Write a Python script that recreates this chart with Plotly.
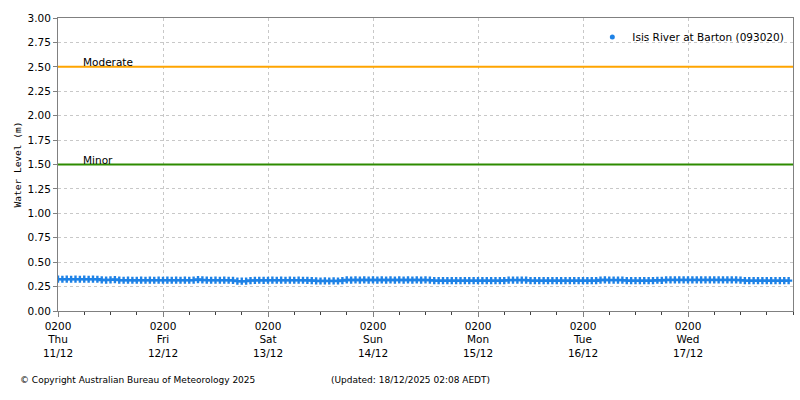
import pandas as pd
import plotly.graph_objects as go

# hourly water level readings (m), starting Thu 11/12/2025 02:00
thu = [0.326, 0.325, 0.326, 0.325, 0.326, 0.325, 0.326, 0.325, 0.326, 0.325, 0.318, 0.317,
       0.319, 0.322, 0.316, 0.315, 0.316, 0.315, 0.315, 0.316, 0.315, 0.316, 0.315, 0.316]
fri = [0.315, 0.316, 0.315, 0.316, 0.315, 0.316, 0.315, 0.316, 0.322, 0.318, 0.316, 0.315,
       0.316, 0.315, 0.316, 0.315, 0.314, 0.306, 0.305, 0.306, 0.312, 0.314, 0.315, 0.314]
sat = [0.315, 0.316, 0.315, 0.316, 0.315, 0.316, 0.315, 0.316, 0.315, 0.314, 0.312, 0.308,
       0.307, 0.308, 0.307, 0.308, 0.307, 0.312, 0.318, 0.317, 0.318, 0.317, 0.318, 0.317]
sun = [0.318, 0.317, 0.318, 0.317, 0.318, 0.317, 0.318, 0.317, 0.318, 0.317, 0.318, 0.317,
       0.318, 0.316, 0.311, 0.310, 0.311, 0.310, 0.311, 0.310, 0.311, 0.310, 0.311, 0.310]
mon = [0.311, 0.310, 0.311, 0.310, 0.311, 0.310, 0.312, 0.316, 0.317, 0.316, 0.317, 0.316,
       0.311, 0.310, 0.311, 0.310, 0.311, 0.310, 0.311, 0.310, 0.311, 0.310, 0.311, 0.310]
tue = [0.311, 0.310, 0.311, 0.310, 0.317, 0.318, 0.317, 0.316, 0.317, 0.316, 0.311, 0.310,
       0.311, 0.310, 0.311, 0.310, 0.311, 0.315, 0.314, 0.318, 0.319, 0.318, 0.319, 0.318]
wed = [0.319, 0.318, 0.319, 0.318, 0.319, 0.318, 0.319, 0.318, 0.319, 0.318, 0.319, 0.318,
       0.316, 0.311, 0.310, 0.311, 0.310, 0.311, 0.310, 0.311, 0.310, 0.311, 0.310, 0.311]
levels = thu + fri + sat + sun + mon + tue + wed
times = pd.date_range('2025-12-11 02:00', periods=len(levels), freq='h')

day_ticks = pd.date_range('2025-12-11 02:00', periods=7, freq='D')
day_names = ['Thu', 'Fri', 'Sat', 'Sun', 'Mon', 'Tue', 'Wed']
day_dates = ['11/12', '12/12', '13/12', '14/12', '15/12', '16/12', '17/12']
tick_text = [f'0200<br>{n}<br>{d}' for n, d in zip(day_names, day_dates)]

moderate_level = 2.5
minor_level = 1.5

font = 'DejaVu Sans'
start = day_ticks[0]
end = start + pd.Timedelta(days=7)

fig = go.Figure()

fig.add_trace(go.Scatter(
    x=[start, end], y=[moderate_level] * 2,
    mode='lines', line={'color': '#FFA500', 'width': 2}, showlegend=False, hoverinfo='skip'))
fig.add_trace(go.Scatter(
    x=[start, end], y=[minor_level] * 2,
    mode='lines', line={'color': '#2E8B00', 'width': 2}, showlegend=False, hoverinfo='skip'))

fig.add_trace(go.Scatter(
    x=times, y=levels, mode='markers', name='Isis River at Barton (093020)',
    marker={'color': '#1E82E6', 'size': 6, 'symbol': 'cross'}, showlegend=False))
# legend entry drawn as a plain dot, like the original
fig.add_trace(go.Scatter(
    x=[None], y=[None], mode='markers', name='Isis River at Barton (093020)',
    marker={'color': '#1E82E6', 'size': 5, 'symbol': 'circle'}))

for lvl, label in [(moderate_level, 'Moderate'), (minor_level, 'Minor')]:
    fig.add_annotation(x=pd.Timestamp('2025-12-11 08:00'), y=lvl, text=label,
                       xanchor='left', yanchor='bottom', showarrow=False, yshift=-3, xshift=-3,
                       font={'family': font, 'size': 10.5, 'color': 'black'})

fig.add_annotation(x=18, y=380, xref='paper', yref='paper',
                   text='© Copyright Australian Bureau of Meteorology 2025',
                   showarrow=False, xanchor='left', yanchor='middle',
                   font={'family': font, 'size': 9, 'color': 'black'})
fig.add_annotation(x=329, y=380, xref='paper', yref='paper',
                   text='(Updated: 18/12/2025 02:08 AEDT)',
                   showarrow=False, xanchor='left', yanchor='middle',
                   font={'family': font, 'size': 9, 'color': 'black'})

# convert pixel positions of footer notes to paper coords
pw, ph = 800 - 58 - 7, 400 - 18 - 89
for ann in fig.layout.annotations[2:]:
    ann.x = (ann.x - 58) / pw
    ann.y = (311 - ann.y) / ph

fig.update_layout(
    width=800, height=400,
    margin={'l': 58, 'r': 7, 't': 18, 'b': 89, 'autoexpand': False},
    plot_bgcolor='white', paper_bgcolor='white',
    font={'family': font, 'size': 10.5, 'color': 'black'},
    legend={'x': 0.995, 'y': 0.985, 'xanchor': 'right', 'yanchor': 'top',
            'bgcolor': 'rgba(0,0,0,0)', 'font': {'size': 10.5}, 'itemwidth': 30},
    xaxis={
        'range': [start, end], 'automargin': False,
        'tickvals': day_ticks, 'ticktext': tick_text,
        'ticks': 'outside', 'ticklen': 5, 'tickcolor': '#808080',
        'showline': True, 'linecolor': '#808080', 'linewidth': 1, 'mirror': True,
        'showgrid': True, 'gridcolor': '#C8C8C8', 'griddash': 'dot', 'gridwidth': 1,
        'zeroline': False,
        'minor': {'dtick': 6 * 3600 * 1000, 'tick0': start, 'ticks': 'outside',
                  'ticklen': 3, 'tickcolor': '#404040', 'showgrid': False},
        'tickfont': {'size': 10.5},
    },
    yaxis={
        'range': [0, 3], 'dtick': 0.25, 'tickformat': '.2f', 'automargin': False,
        'ticks': 'outside', 'ticklen': 4, 'tickcolor': '#808080',
        'showline': True, 'linecolor': '#808080', 'linewidth': 1, 'mirror': True,
        'showgrid': True, 'gridcolor': '#C8C8C8', 'griddash': 'dot', 'gridwidth': 1,
        'zeroline': False,
        'title': {'text': 'Water Level (m)', 'standoff': 4,
                  'font': {'family': 'DejaVu Sans Mono', 'size': 9.5}},
        'tickfont': {'size': 10.5},
    },
)

fig.write_html('out.html', config={'displayModeBar': False},
               post_script="document.body.style.margin='0';")
